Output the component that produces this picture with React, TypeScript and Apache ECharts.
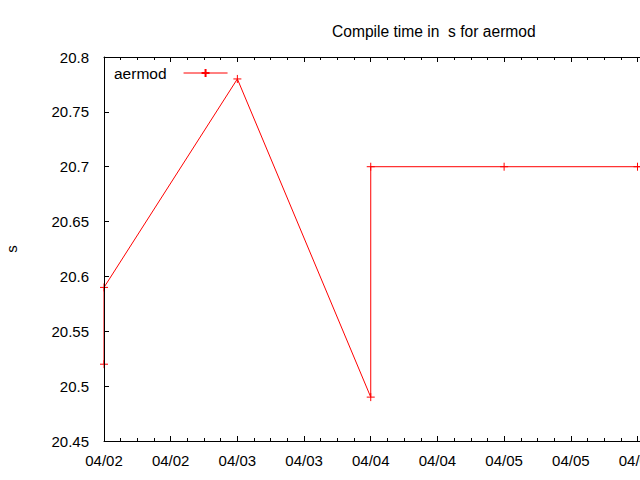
import React, { useEffect, useRef } from "react";
import * as echarts from "echarts";

const seriesName = "aermod";
const titleText = "Compile time in  s for aermod";
const yAxisName = "s";
const times = [
  "2011-04-02T00:00:00Z",
  "2011-04-02T00:00:00Z",
  "2011-04-03T00:00:00Z",
  "2011-04-04T00:00:00Z",
  "2011-04-04T00:00:00Z",
  "2011-04-05T00:00:00Z",
  "2011-04-06T00:00:00Z",
  "2011-04-07T00:00:00Z",
];
const values = [20.52, 20.59, 20.78, 20.49, 20.7, 20.7, 20.7, 20.7];
const xStart = "2011-04-02T00:00:00Z";
const xSpanHours = 96.45;
const yMin = 20.45;
const yMax = 20.8;
const yStep = 0.05;

const HOUR = 3600 * 1000;
const FONT = "Liberation Sans";
const FS = 15;
const plus = "path://M0,5L10,5M5,0L5,10";

export default function App() {
  const ref = useRef<HTMLDivElement>(null);
  useEffect(() => {
    if (!ref.current) return;
    const chart = echarts.init(ref.current, undefined, { renderer: "svg" });
    const x0 = Date.parse(xStart);
    const x1 = x0 + xSpanHours * HOUR;
    const fmt = (v: number) => {
      const d = new Date(v);
      const mm = String(d.getUTCMonth() + 1).padStart(2, "0");
      const dd = String(d.getUTCDate()).padStart(2, "0");
      return `${mm}/${dd}`;
    };
    const data = times.map((t, i) => [Date.parse(t), values[i]]);
    const xCommon = {
      type: "value" as const,
      min: x0,
      max: x1,
      interval: 12 * HOUR,
      z: 5,
      splitLine: { show: false },
      axisLine: { show: true, lineStyle: { color: "#000", width: 1 } },
      axisTick: { show: true, inside: true, length: 5, lineStyle: { color: "#000" } },
      minorTick: { show: true, splitNumber: 4, length: 3, lineStyle: { color: "#000" } },
    };
    chart.setOption({
      animation: false,
      backgroundColor: "#fff",
      textStyle: { fontFamily: FONT },
      title: {
        text: titleText,
        left: 327,
        top: 18,
        textStyle: { fontFamily: FONT, fontSize: 15.6, fontWeight: "normal", color: "#000" },
      },
      legend: {
        left: 109,
        top: 60,
        align: "right",
        itemWidth: 44,
        itemHeight: 10,
        data: [seriesName],
        lineStyle: { width: 1 },
        textStyle: { fontFamily: FONT, fontSize: 15.5, color: "#000", padding: [0, 12, 0, 0] },
      },
      grid: { left: 104, top: 57, bottom: 39, right: 0, outerBoundsMode: "none", containLabel: false },
      xAxis: [
        {
          ...xCommon,
          position: "bottom",
          axisLabel: {
            formatter: fmt,
            margin: 12,
            color: "#000",
            fontFamily: FONT,
            fontSize: FS,
            showMaxLabel: false,
            hideOverlap: false,
          },
        },
        {
          ...xCommon,
          position: "top",
          axisLabel: { show: false },
        },
      ],
      yAxis: {
        type: "value",
        min: yMin,
        max: yMax,
        interval: yStep,
        z: 5,
        name: yAxisName,
        nameLocation: "middle",
        nameRotate: 90,
        nameGap: 85,
        nameTextStyle: { fontFamily: FONT, fontSize: FS, color: "#000" },
        splitLine: { show: false },
        axisLine: { show: true, lineStyle: { color: "#000", width: 1 } },
        axisTick: { show: true, inside: true, length: 5, lineStyle: { color: "#000" } },
        axisLabel: {
          margin: 15,
          color: "#000",
          fontFamily: FONT,
          fontSize: FS,
          formatter: (v: number) => String(parseFloat(v.toFixed(2))),
        },
      },
      series: [
        {
          name: seriesName,
          type: "line",
          data,
          symbol: plus,
          symbolSize: 8,
          showAllSymbol: true,
          clip: true,
          z: 2,
          lineStyle: { color: "#ff0000", width: 1 },
          itemStyle: { color: "rgba(0,0,0,0)", borderColor: "#ff0000", borderWidth: 1 },
        },
      ],
    });
    return () => chart.dispose();
  }, []);
  return (
    <div
      ref={ref}
      style={{ position: "fixed", left: 0, top: 0, width: 640, height: 480 }}
    />
  );
}
